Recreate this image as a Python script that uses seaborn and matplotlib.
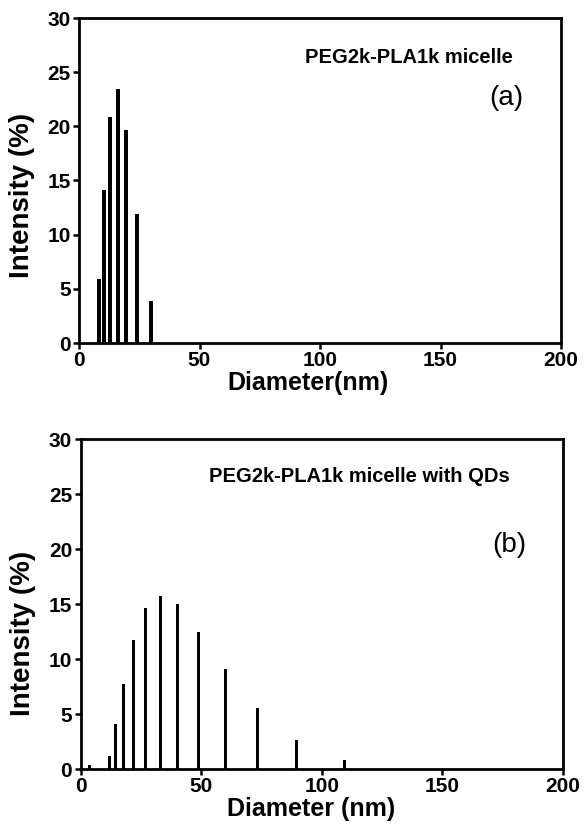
import numpy as np
import pandas as pd
import seaborn as sns
import matplotlib.pyplot as plt

# ================= DATA =================
# (a) PEG2k-PLA1k micelle
diam_a = [8.4, 10.5, 13.0, 16.3, 19.6, 24.2, 30.0]
inten_a = [5.9, 14.1, 20.9, 23.4, 19.7, 11.9, 3.9]

# (b) PEG2k-PLA1k micelle with QDs
diam_b = [3.6, 11.9, 14.7, 17.9, 22.0, 26.9, 33.0, 40.2, 49.1, 60.1, 73.3, 89.6, 109.6]
inten_b = [0.35, 1.2, 4.05, 7.75, 11.7, 14.6, 15.7, 15.0, 12.5, 9.05, 5.55, 2.6, 0.8]

x_ticks = [0, 50, 100, 150, 200]
y_ticks = [0, 5, 10, 15, 20, 25, 30]

sns.set_theme(style="ticks")
plt.rcParams['font.family'] = ['Liberation Sans', 'DejaVu Sans']
plt.rcParams.update({'text.color': 'black', 'axes.labelcolor': 'black',
                     'xtick.color': 'black', 'ytick.color': 'black'})

fig = plt.figure(figsize=(5.87, 8.38), dpi=100)
W, H = 587.0, 838.0
ax_a = fig.add_axes([79 / W, 1 - 343 / H, (561 - 79) / W, (343 - 18) / H])
ax_b = fig.add_axes([80.5 / W, 1 - 769 / H, (563 - 80.5) / W, (769 - 439) / H])

df_a = pd.DataFrame({'Diameter': diam_a, 'Intensity': inten_a})
df_b = pd.DataFrame({'Diameter': diam_b, 'Intensity': inten_b})

sns.barplot(data=df_a, x='Diameter', y='Intensity', native_scale=True,
            color='black', width=0.78, errorbar=None, linewidth=0,
            saturation=1, ax=ax_a)
sns.barplot(data=df_b, x='Diameter', y='Intensity', native_scale=True,
            color='black', width=0.45, errorbar=None, linewidth=0,
            saturation=1, ax=ax_b)

for ax, xl in [(ax_a, 'Diameter(nm)'), (ax_b, 'Diameter (nm)')]:
    ax.set_xlim(0, 200)
    ax.set_ylim(0, 30)
    ax.set_xticks(x_ticks)
    ax.set_yticks(y_ticks)
    ax.set_xticklabels([str(t) for t in x_ticks], fontweight='bold', fontsize=15)
    ax.set_yticklabels([str(t) for t in y_ticks], fontweight='bold', fontsize=15)
    ax.tick_params(direction='out', length=4, width=1.8, pad=2)
    for s in ax.spines.values():
        s.set_visible(True)
        s.set_linewidth(2)
        s.set_color('black')
    ax.set_xlabel(xl, fontsize=18, fontweight='bold')
    ax.set_ylabel('Intensity (%)', fontsize=20, fontweight='bold')
    ax.set_facecolor('white')

ax_a.xaxis.set_label_coords(0.475, -0.085)
ax_a.yaxis.set_label_coords(-0.092, 0.455)
ax_b.xaxis.set_label_coords(0.478, -0.085)
ax_b.yaxis.set_label_coords(-0.092, 0.41)

ax_a.text(0.90, 0.877, 'PEG2k-PLA1k micelle', transform=ax_a.transAxes,
          ha='right', va='center', fontsize=14.5, fontweight='bold')
ax_a.text(0.886, 0.755, '(a)', transform=ax_a.transAxes,
          ha='center', va='center', fontsize=20)
ax_b.text(0.89, 0.885, 'PEG2k-PLA1k micelle with QDs', transform=ax_b.transAxes,
          ha='right', va='center', fontsize=14.5, fontweight='bold')
ax_b.text(0.888, 0.68, '(b)', transform=ax_b.transAxes,
          ha='center', va='center', fontsize=20)

fig.savefig('out.png', dpi=100, facecolor='white')
